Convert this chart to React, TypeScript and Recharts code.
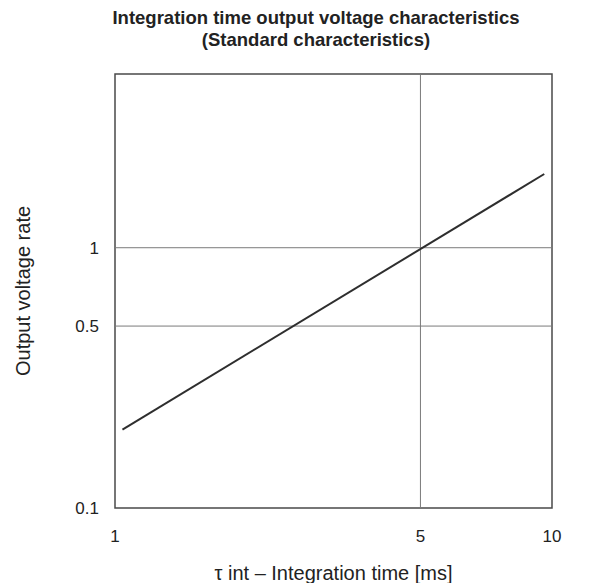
import { LineChart, Line, XAxis, YAxis, ReferenceLine, ReferenceArea } from 'recharts';

// integration time [ms] vs output voltage rate (log-log, straight line)
const integrationTime = [1.04, 9.6];
const outputRate = [0.2, 1.92];

const xTicks = [1, 5, 10];
const yTicks = [0.1, 0.5, 1];
const xGrid = [5];
const yGrid = [0.5, 1];

const data = integrationTime.map((t, i) => ({ t, v: outputRate[i] }));

const font = '"Liberation Sans", Arial, Helvetica, sans-serif';

export default function App() {
  return (
    <div style={{ position: 'absolute', left: 0, top: 0, width: 592, height: 583, background: '#fff', fontFamily: font }}>
      <div style={{ position: 'absolute', left: 0, width: 632, top: 7, textAlign: 'center', fontWeight: 'bold', fontSize: 18.5, lineHeight: '22px', color: '#222' }}>
        Integration time output voltage characteristics
        <br />
        (Standard characteristics)
      </div>
      <LineChart width={592} height={583} data={data} margin={{ top: 74, right: 40, bottom: 0, left: 0 }}>
        <XAxis
          dataKey="t"
          type="number"
          scale="log"
          domain={[1, 10]}
          ticks={xTicks}
          allowDataOverflow
          axisLine={false}
          tickLine={false}
          tickSize={10}
          tickMargin={12}
          height={75}
          tick={{ fontSize: 17, fill: '#222', fontFamily: font }}
          label={{ value: 'τ int – Integration time [ms]', position: 'insideBottom', offset: 3, style: { fontSize: 20, fill: '#222', fontFamily: font } }}
        />
        <YAxis
          type="number"
          scale="log"
          domain={[0.1, 4.65]}
          ticks={yTicks}
          allowDataOverflow
          axisLine={false}
          tickLine={false}
          tickSize={8}
          tickMargin={8}
          width={115}
          tick={{ fontSize: 17, fill: '#222', fontFamily: font }}
          label={{ value: 'Output voltage rate', angle: -90, position: 'insideLeft', offset: 23, style: { textAnchor: 'middle', fontSize: 20, fill: '#222', fontFamily: font } }}
        />
        {xGrid.map((x) => (
          <ReferenceLine key={'x' + x} x={x} stroke="#7a7a7a" strokeWidth={1} />
        ))}
        {yGrid.map((y) => (
          <ReferenceLine key={'y' + y} y={y} stroke="#7a7a7a" strokeWidth={1} />
        ))}
        <ReferenceArea x1={1} x2={10} y1={0.1} y2={4.65} fill="none" stroke="#4a4a4a" strokeWidth={1.5} />
        <Line dataKey="v" type="linear" stroke="#2e2e2e" strokeWidth={2} dot={false} isAnimationActive={false} />
      </LineChart>
    </div>
  );
}
